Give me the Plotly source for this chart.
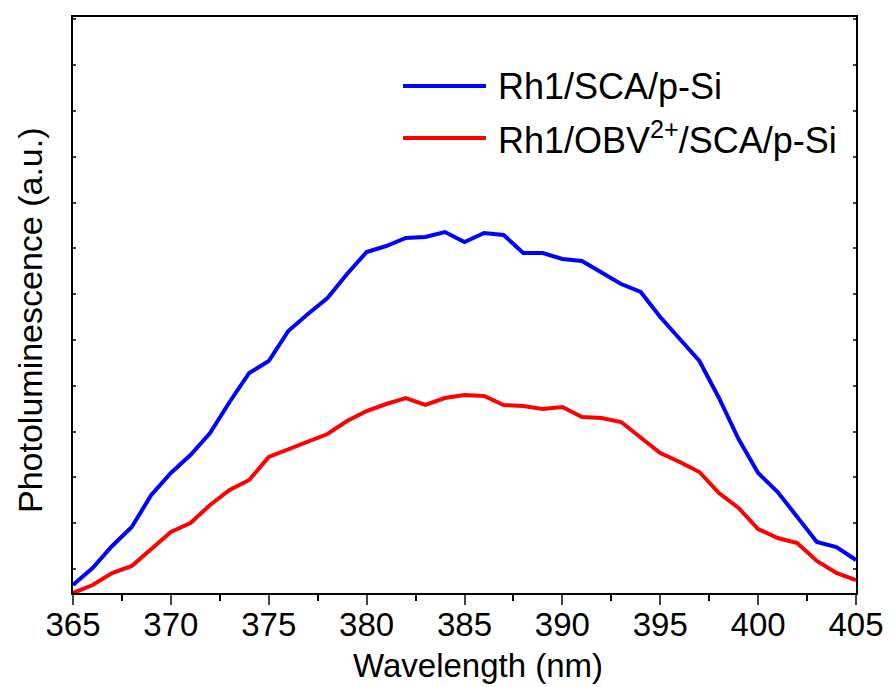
import plotly.graph_objects as go

wavelength = list(range(365, 406))
# values read as pixel heights above the axis baseline (arbitrary units)
pixel_blue = [585, 568, 546, 527, 495, 473, 455, 433, 402, 373,
              361, 331, 314, 298, 274, 252, 246, 238, 237, 232,
              242, 233, 235, 253, 253, 259, 261, 272, 284, 292,
              317, 339, 361, 398, 439, 473, 492, 517, 542, 547, 560]
pixel_red = [593, 585, 573, 566, 549, 532, 523, 505, 490, 480,
             457, 449, 441, 434, 421, 411, 404, 398, 405, 398,
             395, 396, 405, 406, 409, 407, 417, 418, 422, 438,
             453, 462, 472, 493, 508, 529, 538, 543, 561, 573, 580]
pl_blue = [593 - v for v in pixel_blue]
pl_red = [593 - v for v in pixel_red]
names = ["Rh1/SCA/p-Si", "Rh1/OBV<sup>2+</sup>/SCA/p-Si"]
colors = ["#0000FF", "#FF0000"]
x_ticks = [365, 370, 375, 380, 385, 390, 395, 400, 405]

FONT = "Liberation Sans, Arial, sans-serif"

fig = go.Figure()
for ys, nm, c in zip([pl_blue, pl_red], names, colors):
    fig.add_trace(go.Scatter(x=wavelength, y=ys, mode="lines", name=nm,
                             line=dict(color=c, width=4), showlegend=False))

fig.update_layout(
    width=890, height=687,
    margin=dict(l=73, r=34, t=17, b=94, autoexpand=False),
    paper_bgcolor="white", plot_bgcolor="white",
    font=dict(family=FONT, color="black"),
    xaxis=dict(range=[365, 405], tickvals=x_ticks, ticks="outside", ticklen=10,
               tickwidth=2, showline=True, linewidth=2, linecolor="black",
               mirror=True, showgrid=False, zeroline=False, automargin=False,
               ticklabelstandoff=-9,
               tickfont=dict(size=33, family=FONT),
               minor=dict(ticks="outside", ticklen=6, tickwidth=2, dtick=2.5,
                          tick0=365, tickcolor="black")),
    yaxis=dict(range=[0, 576], tick0=24, dtick=45.8, ticks="inside", ticklen=3,
               tickwidth=2, showticklabels=False, showline=True, linewidth=2,
               linecolor="black", mirror="ticks", showgrid=False, zeroline=False,
               automargin=False),
)

# x title and y title
fig.add_annotation(text="Wavelength (nm)", xref="paper", yref="paper",
                   x=0.517, y=-0.126, showarrow=False, xanchor="center",
                   yanchor="middle", font=dict(size=33, family=FONT))
fig.add_annotation(text="Photoluminescence (a.u.)", xref="paper", yref="paper",
                   x=-0.0549, y=0.474, showarrow=False, textangle=-90,
                   xanchor="center", yanchor="middle",
                   font=dict(size=34, family=FONT))

# legend drawn manually (long line samples)
leg_y = [0.880, 0.790]
for yy, nm, c in zip(leg_y, names, colors):
    fig.add_shape(type="line", xref="paper", yref="paper",
                  x0=0.4215, x1=0.5275, y0=yy, y1=yy,
                  line=dict(color=c, width=4))
    fig.add_annotation(text=nm, xref="paper", yref="paper", x=0.540, y=yy,
                       showarrow=False, xanchor="left", yanchor="middle",
                       font=dict(size=36, family=FONT))

fig.write_html("out.html")
